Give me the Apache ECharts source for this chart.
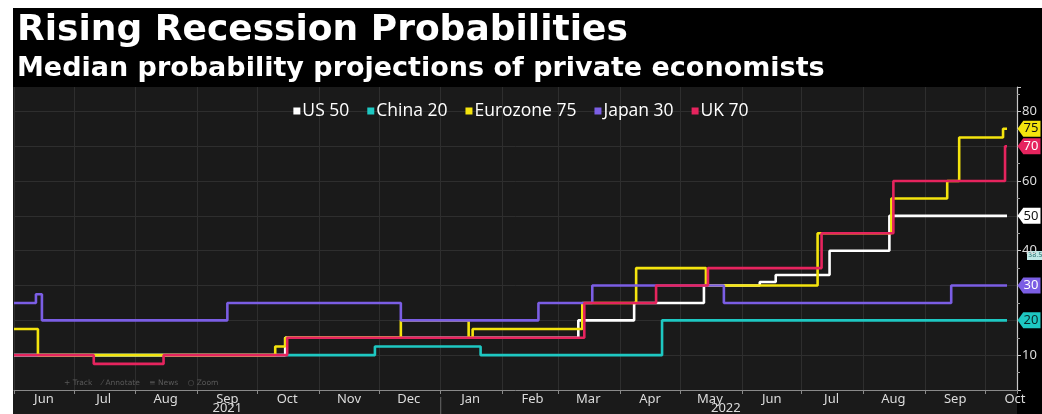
<!DOCTYPE html>
<html>
<head>
<meta charset="utf-8">
<script src="https://cdn.jsdelivr.net/npm/echarts@6/dist/echarts.min.js"></script>
<style>
  html, body { margin: 0; padding: 0; background: #ffffff; }
  #chart { width: 1042px; height: 414px; }
</style>
</head>
<body>
<div id="chart"></div>
<script>
// Median recession probability (%), step changes [date, value]
const usData = [
  ['2021-06-01', 10], ['2021-10-15', 15], ['2022-03-11', 20], ['2022-04-08', 25],
  ['2022-05-13', 30], ['2022-06-10', 31], ['2022-06-18', 33], ['2022-07-15', 40],
  ['2022-08-14', 50], ['2022-10-12', 50]
];
const chinaData = [
  ['2021-06-01', 10], ['2021-11-29', 12.5], ['2022-01-21', 10], ['2022-04-22', 20],
  ['2022-10-12', 20]
];
const eurozoneData = [
  ['2021-06-01', 17.5], ['2021-06-13', 10], ['2021-10-10', 12.5], ['2021-10-15', 15],
  ['2021-12-12', 20], ['2022-01-15', 15], ['2022-01-17', 17.5], ['2022-03-13', 25],
  ['2022-04-09', 35], ['2022-05-14', 30], ['2022-07-09', 45], ['2022-08-15', 55],
  ['2022-09-12', 60], ['2022-09-18', 72.5], ['2022-10-10', 75], ['2022-10-12', 75]
];
const japanData = [
  ['2021-06-01', 25], ['2021-06-12', 27.5], ['2021-06-15', 20], ['2021-09-16', 25],
  ['2021-12-12', 20], ['2022-02-19', 25], ['2022-03-18', 30], ['2022-05-23', 25],
  ['2022-09-14', 30], ['2022-10-12', 30]
];
const ukData = [
  ['2021-06-01', 10], ['2021-07-11', 7.5], ['2021-08-15', 10], ['2021-10-16', 15],
  ['2022-03-14', 25], ['2022-04-19', 30], ['2022-05-15', 35], ['2022-07-11', 45],
  ['2022-08-16', 60], ['2022-10-11', 70], ['2022-10-12', 70]
];

const seriesNames = ['US', 'China', 'Eurozone', 'Japan', 'UK'];
const seriesData = [usData, chinaData, eurozoneData, japanData, ukData];
const seriesColors = ['#ffffff', '#1ec8c2', '#f4e40e', '#7b5ee4', '#e6245e'];
const tagTextColors = ['#111111', '#0b2a2a', '#111111', '#ffffff', '#ffffff'];
// drawing order, bottom to top
const drawOrder = [1, 0, 2, 3, 4];

const monthNames = ['Jan','Feb','Mar','Apr','May','Jun','Jul','Aug','Sep','Oct','Nov','Dec'];
const yearLabels = [['2021', '2021-09-16'], ['2022', '2022-05-24']];
const yearBreak = '2022-01-01';

const xMin = '2021-06-01';
const xMax = '2022-10-17';
const DAY = 86400000;
const shift = (s, d) => new Date(new Date(s + 'T00:00:00').getTime() + d * DAY);

const lastValue = d => d[d.length - 1][1];

const chart = echarts.init(document.getElementById('chart'), null, { renderer: 'canvas' });

const tagPath = 'path://M0,8 L6,0 L24,0 L24,16 L6,16 Z';

const series = drawOrder.map(i => ({
  name: seriesNames[i],
  type: 'line',
  step: 'end',
  data: seriesData[i],
  xAxisIndex: 0,
  yAxisIndex: 0,
  showSymbol: false,
  symbol: 'none',
  lineStyle: { color: seriesColors[i], width: 2.6 },
  itemStyle: { color: seriesColors[i] },
  emphasis: { disabled: true },
  animation: false,
  markPoint: {
    silent: true,
    symbol: tagPath,
    symbolSize: [23, 16],
    symbolOffset: [12, 0],
    itemStyle: { color: seriesColors[i] },
    label: {
      show: true,
      formatter: String(lastValue(seriesData[i])),
      color: tagTextColors[i],
      fontSize: 13,
      fontFamily: 'Noto Sans',
      offset: [2, 0]
    },
    data: [{ coord: [xMax, lastValue(seriesData[i])] }]
  }
}));

const legendNames = seriesNames.map((n, i) => n + ' ' + lastValue(seriesData[i]));

const option = {
  backgroundColor: '#ffffff',
  animation: false,
  title: {
    text: 'Rising Recession Probabilities',
    subtext: 'Median probability projections of private economists',
    left: 12,
    top: 8,
    itemGap: 6,
    textStyle: { color: '#ffffff', fontSize: 36, fontWeight: 'bold', fontFamily: 'DejaVu Sans' },
    subtextStyle: { color: '#ffffff', fontSize: 27, fontWeight: 'bold', fontFamily: 'DejaVu Sans' }
  },
  legend: {
    top: 97,
    left: 'center',
    icon: 'rect',
    itemWidth: 7,
    itemHeight: 7,
    itemGap: 18,
    selectedMode: false,
    data: seriesNames,
    formatter: name => legendNames[seriesNames.indexOf(name)],
    textStyle: { color: '#ffffff', fontSize: 17.5, fontFamily: 'Open Sans', padding: [0, 0, 0, -3] }
  },
  grid: [
    { left: 14, right: 25, top: 87, bottom: 24 },
    { left: 14, right: 25, top: 87, bottom: 24 }
  ],
  xAxis: [
    {
      type: 'time', gridIndex: 0, min: xMin, max: xMax,
      minInterval: 28 * DAY, maxInterval: 31 * DAY,
      axisLine: { show: true, lineStyle: { color: '#8a8a8a', width: 1 } },
      axisTick: { show: true, length: 4, lineStyle: { color: '#8a8a8a' } },
      axisLabel: { show: false },
      splitLine: { show: true, lineStyle: { color: '#2e2e2e', width: 1 } }
    },
    {
      type: 'time', gridIndex: 1, min: shift(xMin, -15), max: shift(xMax, -15),
      minInterval: 28 * DAY, maxInterval: 31 * DAY,
      axisLine: { show: false }, axisTick: { show: false }, splitLine: { show: false },
      axisLabel: {
        show: true, margin: 3, color: '#dcdcdc', fontSize: 13, fontFamily: 'Noto Sans',
        formatter: v => monthNames[new Date(v).getMonth()]
      }
    }
  ],
  yAxis: [
    {
      type: 'value', gridIndex: 0, position: 'right', min: 0, max: 87, interval: 10,
      axisLine: { show: true, lineStyle: { color: '#c8c8c8', width: 1.2 } },
      axisTick: { show: true, length: 4, lineStyle: { color: '#c8c8c8' } },
      minorTick: { show: true, splitNumber: 2, length: 3, lineStyle: { color: '#9a9a9a' } },
      axisLabel: {
        show: true, margin: 5, color: '#dcdcdc', fontSize: 13, fontFamily: 'Noto Sans',
        showMinLabel: false, showMaxLabel: false
      },
      splitLine: { show: true, showMinLine: false, showMaxLine: false, lineStyle: { color: '#2e2e2e', width: 1 } }
    },
    { type: 'value', gridIndex: 1, show: false, min: 0, max: 87 }
  ],
  series: series,
  graphic: [
    { type: 'rect', z: -20, shape: { x: 13, y: 8, width: 1029, height: 406 }, style: { fill: '#000000' }, silent: true },
    { type: 'rect', z: -19, shape: { x: 13, y: 87, width: 1004, height: 327 }, style: { fill: '#1a1a1a' }, silent: true }
  ]
};

chart.setOption(option);

// Year captions under the month labels, and the divider at the turn of the year
const px = d => chart.convertToPixel({ xAxisIndex: 0 }, d);
const extra = yearLabels.map(([txt, d]) => ({
  type: 'text', silent: true, z: 10,
  style: { x: px(d), y: 402, text: txt, fill: '#dcdcdc', fontSize: 13, fontFamily: 'Noto Sans', align: 'center', verticalAlign: 'top' }
}));
extra.push({
  type: 'line', silent: true, z: 10,
  shape: { x1: px(yearBreak), y1: 397, x2: px(yearBreak), y2: 414 },
  style: { stroke: '#6a6a6a', lineWidth: 1 }
});
// chart toolbar strip
extra.push({
  type: 'text', silent: true, z: 10,
  style: { x: 64, y: 383, text: '+ Track    \u2044 Annotate    \u2261 News    \u25CB Zoom', fill: '#5a5a5a', fontSize: 7.5, fontFamily: 'DejaVu Sans', verticalAlign: 'middle' }
});
// crosshair value readout on the right axis
extra.push({
  type: 'group', silent: true, z: 10, x: 1027, y: 251,
  children: [
    { type: 'rect', shape: { x: 0, y: 0, width: 15, height: 9 }, style: { fill: '#bfe9e6' } },
    { type: 'text', style: { x: 1, y: 4.5, text: '38.52', fill: '#2a6d6a', fontSize: 6.5, fontFamily: 'DejaVu Sans', verticalAlign: 'middle' } }
  ]
});
chart.setOption({ graphic: option.graphic.concat(extra) });
</script>
</body>
</html>
